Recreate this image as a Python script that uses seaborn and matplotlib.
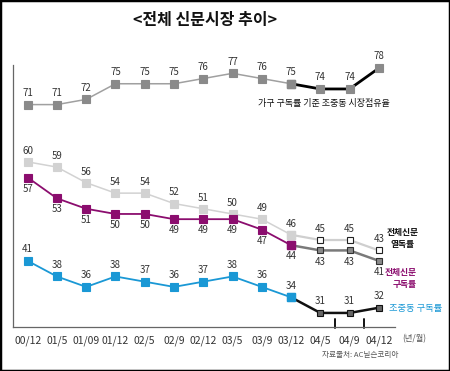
import numpy as np
import pandas as pd
import matplotlib
matplotlib.use("Agg")
import matplotlib.pyplot as plt
import seaborn as sns
from matplotlib.patches import Rectangle

# data
periods = ["00/12", "01/5", "01/09", "01/12", "02/5", "02/9", "02/12",
           "03/5", "03/9", "03/12", "04/5", "04/9", "04/12"]
share_jjd = [71, 71, 72, 75, 75, 75, 76, 77, 76, 75, 74, 74, 78]
reading_all = [60, 59, 56, 54, 54, 52, 51, 50, 49, 46, 45, 45, 43]
subscr_all = [57, 53, 51, 50, 50, 49, 49, 49, 47, 44, 43, 43, 41]
subscr_jjd = [41, 38, 36, 38, 37, 36, 37, 38, 36, 34, 31, 31, 32]

sns.set_style("white")
plt.rcParams["font.family"] = ["Noto Sans CJK KR", "DejaVu Sans"]

fig = plt.figure(figsize=(4.5, 3.71), dpi=100)
ax = fig.add_axes([13 / 450, 44 / 371, 382 / 450, 262 / 371])

x = np.arange(len(periods))
split = 9  # 03/12 -> new survey segment


def seg(vals, a, b, color, lw, mfc, mec, ms=5.2, z=3):
    d = pd.DataFrame({"x": x[a:b], "y": vals[a:b]})
    sns.lineplot(data=d, x="x", y="y", ax=ax, color=color, linewidth=lw,
                 marker="s", markersize=ms, markerfacecolor=mfc,
                 markeredgecolor=mec, markeredgewidth=0.8, zorder=z,
                 clip_on=False)


# 시장점유율
seg(share_jjd, 0, split + 1, "#a0a0a0", 1.1, "#8a8a8a", "#8a8a8a")
seg(share_jjd, split, None, "black", 2.0, "#8a8a8a", "#8a8a8a", z=4)
ax.plot(x[split], share_jjd[split], "s", ms=5.2, color="#8a8a8a", zorder=5)

# 전체신문 열독률
seg(reading_all, 0, split + 1, "#d2d2d2", 1.1, "#d2d2d2", "#d2d2d2")
seg(reading_all, split, None, "#cfcfcf", 1.6, "white", "#222222", ms=5)
ax.plot(x[split], reading_all[split], "s", ms=5.2, color="#d2d2d2", zorder=5)

# 전체신문 구독률
seg(subscr_all, 0, split + 1, "#8b0d6e", 1.3, "#8b0d6e", "#8b0d6e")
seg(subscr_all, split, None, "#7a7a7a", 1.8, "#8a8a8a", "#333333", ms=5)
ax.plot(x[split], subscr_all[split], "s", ms=5.2, color="#8b0d6e", zorder=5)

# 조중동 구독률
seg(subscr_jjd, 0, split + 1, "#1a98d5", 1.3, "#1a98d5", "#1a98d5")
seg(subscr_jjd, split, None, "#111111", 1.8, "#666666", "#111111", ms=5)
ax.plot(x[split], subscr_jjd[split], "s", ms=5.2, color="#1a98d5", zorder=5)

# value labels
lab = dict(fontsize=7, color="#333333", ha="center", va="center",
           textcoords="offset points", annotation_clip=False)
for i in x:
    ax.annotate(str(share_jjd[i]), (i, share_jjd[i]), xytext=(0, 8.5), **lab)
    ax.annotate(str(reading_all[i]), (i, reading_all[i]), xytext=(0, 8), **lab)
    ax.annotate(str(subscr_all[i]), (i, subscr_all[i]), xytext=(0, -8), **lab)
    ax.annotate(str(subscr_jjd[i]), (i, subscr_jjd[i]), xytext=(0, 8.5), **lab)

ax.set_xlim(-0.5, 12.55)
ax.set_ylim(28.3, 78.6)
ax.set_xticks(x)
ax.set_xticklabels(periods, fontsize=7.5, color="#333333")
ax.set_xticks(list(x[:-1] + 0.5) + [12.55], minor=True)
ax.tick_params(axis="x", which="major", length=0, pad=6)
ax.tick_params(axis="x", which="minor", length=3.5, width=0.8,
               color="#666666", direction="in")
ax.set_yticks([])
ax.set_xlabel("")
ax.set_ylabel("")
for s in ["top", "right"]:
    ax.spines[s].set_visible(False)
for s in ["left", "bottom"]:
    ax.spines[s].set_color("#666666")
    ax.spines[s].set_linewidth(0.9)

# darker, longer ticks around the last survey periods
for xb in [10.5, 11.5]:
    ax.plot([xb, xb], [28.3 - 0.2, 28.3 + 1.5], color="#111111", lw=1.4,
            clip_on=False, zorder=2)

# series names
ax.text(7.87, 71.3, "가구 구독률 기준 조중동 시장점유율", fontsize=6.5,
        color="#111111", ha="left", va="center")
ax.text(12.8, 45.3, "전체신문\n열독률", fontsize=6.3, color="#111111",
        ha="center", va="center", multialignment="center",
        fontweight="bold", linespacing=1.45)
ax.text(13.3, 37.6, "전체신문\n구독률", fontsize=6.3, color="#8b0d6e",
        ha="right", va="center", multialignment="right",
        fontweight="bold", linespacing=1.45)
ax.text(12.35, 31.8, "조중동 구독률", fontsize=6.7, color="#1a98d5",
        ha="left", va="center")

fig.text(402 / 450, 1 - 339 / 371, "(년/월)", fontsize=6, color="#555555",
         ha="left", va="center")
fig.text(360 / 450, 1 - 355 / 371, "자료출처: AC닐슨코리아", fontsize=5.5,
         color="#555555", ha="center", va="center")
fig.text(205 / 450, 1 - 20 / 371, "<전체 신문시장 추이>", fontsize=11.5,
         fontweight="bold", color="#111111", ha="center", va="center")

fig.patches.append(Rectangle((0, 0), 1, 1, transform=fig.transFigure,
                             fill=False, edgecolor="black", linewidth=2.5))

fig.savefig("out.png", dpi=100)
